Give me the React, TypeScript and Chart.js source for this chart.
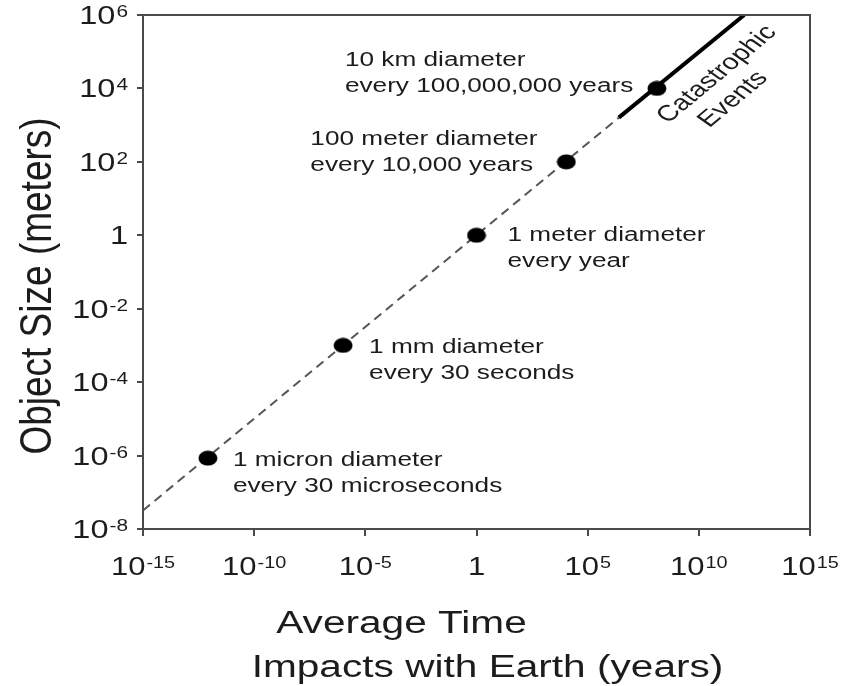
import React, { useEffect, useRef } from "react";
import { Chart, registerables } from "chart.js";

Chart.register(...registerables);

// ---- data ----
const xTickExps = [-15, -10, -5, 0, 5, 10, 15];
const yTickExps = [-8, -6, -4, -2, 0, 2, 4, 6];

const eventTimes = [8.3e-13, 1e-6, 1, 1.1e4, 1.3e8];
const eventSizes = [8.5e-7, 1e-3, 1, 1e2, 1e4];
const eventLabels = [
  ["1 micron diameter", "every 30 microseconds"],
  ["1 mm diameter", "every 30 seconds"],
  ["1 meter diameter", "every year"],
  ["100 meter diameter", "every 10,000 years"],
  ["10 km diameter", "every 100,000,000 years"],
];

const trendTimes = [1e-15, 2.5e6];
const trendSizes = [3.2e-8, 1.6e3];

const catastrophicTimes = [2.5e6, 1.1e12];
const catastrophicSizes = [1.6e3, 1e6];

const catastrophicLabel = ["Catastrophic", "Events"];
const yTitle = "Object Size (meters)";
const xTitleLines = ["Average Time", "Impacts with Earth (years)"];

// ---- style / layout ----
const FONT = "'Liberation Sans', Arial, sans-serif";
const SX = 1.31;
const TEXT_COLOR = "#1c1c1c";
const labelOffsets = [
  [25, 8],
  [26, 8],
  [31, 6],
  [-256, -17],
  [-312, -22],
];

function drawStretched(
  ctx: CanvasRenderingContext2D,
  text: string,
  x: number,
  y: number,
  font: string,
  sx: number,
  align: CanvasTextAlign = "left"
) {
  ctx.save();
  ctx.font = font;
  ctx.fillStyle = TEXT_COLOR;
  ctx.textBaseline = "alphabetic";
  ctx.textAlign = align;
  ctx.translate(x, y);
  ctx.scale(sx, 1);
  ctx.fillText(text, 0, 0);
  ctx.restore();
}

function powLabelParts(e: number) {
  if (e === 0) return { base: "1", sup: "" };
  return { base: "10", sup: String(e) };
}

function drawPowLabel(
  ctx: CanvasRenderingContext2D,
  e: number,
  anchorX: number,
  baseline: number,
  mode: "center" | "right",
  sx: number
) {
  const { base, sup } = powLabelParts(e);
  const baseFont = `25px ${FONT}`;
  const supFont = `16px ${FONT}`;
  ctx.save();
  ctx.font = baseFont;
  const wb = ctx.measureText(base).width * sx;
  ctx.font = supFont;
  const ws = sup ? ctx.measureText(sup).width * sx + 1 : 0;
  ctx.restore();
  const total = wb + ws;
  const start = mode === "center" ? anchorX - total / 2 : anchorX - total;
  drawStretched(ctx, base, start, baseline, baseFont, sx);
  if (sup) drawStretched(ctx, sup, start + wb + 1, baseline - 7, supFont, sx);
}

function makeDot(): HTMLCanvasElement {
  const c = document.createElement("canvas");
  c.width = 20;
  c.height = 16;
  const g = c.getContext("2d")!;
  g.fillStyle = "#000";
  g.beginPath();
  g.ellipse(10, 8, 9.5, 7.5, 0, 0, Math.PI * 2);
  g.fill();
  return c;
}

const overlayPlugin = {
  id: "overlay",
  afterDraw(chart: any) {
    const ctx: CanvasRenderingContext2D = chart.ctx;
    const { left, right, top, bottom } = chart.chartArea;
    const xs = chart.scales.x;
    const ys = chart.scales.y;

    // frame (top & right)
    ctx.save();
    ctx.strokeStyle = "#4a4a4a";
    ctx.lineWidth = 2;
    ctx.beginPath();
    ctx.moveTo(left, top);
    ctx.lineTo(right, top);
    ctx.lineTo(right, bottom);
    ctx.stroke();
    ctx.restore();

    // tick labels
    xTickExps.forEach((e) => {
      const px = xs.getPixelForValue(Math.pow(10, e));
      drawPowLabel(ctx, e, px, bottom + 46, "center", 1.24);
    });
    yTickExps.forEach((e) => {
      const py = ys.getPixelForValue(Math.pow(10, e));
      drawPowLabel(ctx, e, left - 15, py + 9, "right", 1.3);
    });

    // annotations
    eventTimes.forEach((t, i) => {
      const px = xs.getPixelForValue(t);
      const py = ys.getPixelForValue(eventSizes[i]);
      const [dx, dy] = labelOffsets[i];
      eventLabels[i].forEach((line, j) => {
        drawStretched(ctx, line, px + dx, py + dy + j * 26, `20px ${FONT}`, SX);
      });
    });

    // catastrophic label
    {
      const px = xs.getPixelForValue(eventTimes[4]);
      const py = ys.getPixelForValue(eventSizes[4]);
      ctx.save();
      ctx.fillStyle = TEXT_COLOR;
      ctx.font = `22px ${FONT}`;
      ctx.textAlign = "center";
      ctx.textBaseline = "middle";
      ctx.translate(px + 60, py - 14);
      ctx.scale(SX, 1);
      ctx.rotate((-47.5 * Math.PI) / 180);
      ctx.fillText(catastrophicLabel[0], 0, 0);
      ctx.fillText(catastrophicLabel[1], -10, 26);
      ctx.restore();
    }

    // x title
    const cx = (left + right) / 2;
    drawStretched(ctx, xTitleLines[0], cx - 75, bottom + 104, `31px ${FONT}`, SX, "center");
    drawStretched(ctx, xTitleLines[1], cx + 11, bottom + 148, `31px ${FONT}`, SX, "center");

    // y title
    ctx.save();
    ctx.fillStyle = TEXT_COLOR;
    ctx.font = `37px ${FONT}`;
    ctx.textAlign = "center";
    ctx.textBaseline = "alphabetic";
    ctx.translate(51, (top + bottom) / 2 + 14);
    ctx.rotate(-Math.PI / 2);
    ctx.scale(1, 1.2);
    ctx.fillText(yTitle, 0, 0);
    ctx.restore();
  },
};

export default function App() {
  const ref = useRef<HTMLCanvasElement | null>(null);
  useEffect(() => {
    document.body.style.margin = "0";
    const canvas = ref.current!;
    const dot = makeDot();
    const chart = new Chart(canvas, {
      type: "scatter",
      data: {
        datasets: [
          {
            label: "events",
            data: eventTimes.map((t, i) => ({ x: t, y: eventSizes[i] })),
            pointStyle: dot as any,
            pointRadius: 9,
            showLine: false,
          },
          {
            label: "trend",
            data: trendTimes.map((t, i) => ({ x: t, y: trendSizes[i] })),
            showLine: true,
            borderColor: "#555",
            borderWidth: 2,
            borderDash: [9, 6],
            pointRadius: 0,
          },
          {
            label: "catastrophic",
            data: catastrophicTimes.map((t, i) => ({ x: t, y: catastrophicSizes[i] })),
            showLine: true,
            borderColor: "#000",
            borderWidth: 4,
            pointRadius: 0,
          },
        ],
      },
      options: {
        responsive: false,
        animation: false,
        events: [],
        layout: { padding: { top: 15, right: 32, left: 0, bottom: 0 } },
        plugins: {
          legend: { display: false },
          tooltip: { enabled: false },
          title: { display: false },
        },
        scales: {
          x: {
            type: "logarithmic",
            min: 1e-15,
            max: 1e15,
            afterBuildTicks: (scale: any) => {
              scale.ticks = xTickExps.map((e) => ({ value: Math.pow(10, e) }));
            },
            afterFit: (scale: any) => {
              scale.height = 157;
            },
            ticks: { display: false },
            grid: {
              drawOnChartArea: false,
              drawTicks: true,
              tickLength: 7,
              color: "#4a4a4a",
              lineWidth: 2,
            },
            border: { display: true, color: "#4a4a4a", width: 2 },
          },
          y: {
            type: "logarithmic",
            min: 1e-8,
            max: 1e6,
            afterBuildTicks: (scale: any) => {
              scale.ticks = yTickExps.map((e) => ({ value: Math.pow(10, e) }));
            },
            afterFit: (scale: any) => {
              scale.width = 143;
            },
            ticks: { display: false },
            grid: {
              drawOnChartArea: false,
              drawTicks: true,
              tickLength: 6,
              color: "#4a4a4a",
              lineWidth: 2,
            },
            border: { display: true, color: "#4a4a4a", width: 2 },
          },
        },
      },
      plugins: [overlayPlugin],
    });
    return () => chart.destroy();
  }, []);
  return (
    <div style={{ position: "fixed", left: 0, top: 0, width: 842, height: 686, background: "#fff" }}>
      <canvas ref={ref} width={842} height={686} />
    </div>
  );
}
